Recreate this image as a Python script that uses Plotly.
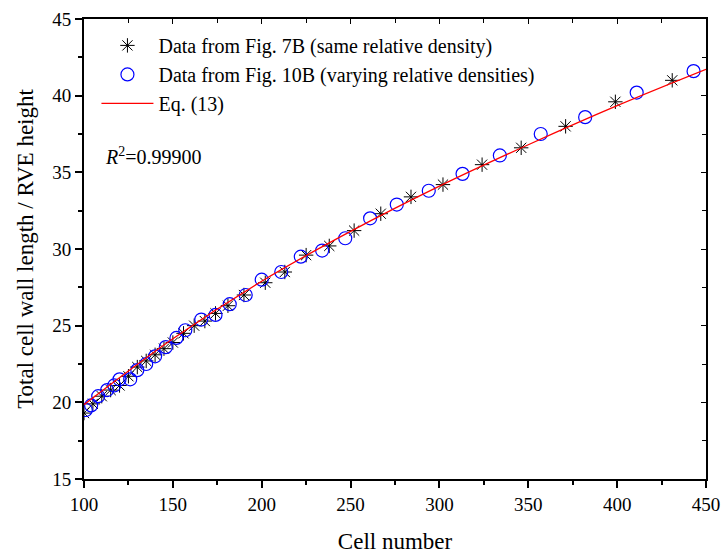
import plotly.graph_objects as go

# Data from Fig. 7B (same relative density) - asterisks
fig7b_cells = [100, 105, 110, 115, 120, 125, 130, 135, 140, 145, 150, 156, 162, 168, 174,
               181, 190, 202, 213, 225, 238, 252, 267, 284, 302, 324, 346, 371, 399, 431]
fig7b_len = [19.3, 19.9, 20.4, 20.8, 21.1, 21.7, 22.3, 22.7, 23.1, 23.5, 23.9, 24.5, 25.0, 25.3, 25.8,
             26.3, 27.0, 27.8, 28.5, 29.6, 30.2, 31.2, 32.3, 33.4, 34.2, 35.5, 36.6, 38.0, 39.6, 41.0]

# Data from Fig. 10B (varying relative densities) - circles
fig10b_cells = [101, 104, 108, 113, 117, 120, 126, 130, 135, 140, 146, 152, 157, 166, 174, 182,
                191, 200, 211, 222, 234, 247, 261, 276, 294, 313, 334, 357, 382, 411, 443]
fig10b_len = [19.5, 19.8, 20.4, 20.8, 21.1, 21.5, 21.5, 22.1, 22.5, 23.0, 23.6, 24.2, 24.7, 25.4, 25.7, 26.4,
              27.0, 28.0, 28.5, 29.5, 29.9, 30.7, 32.0, 32.9, 33.8, 34.9, 36.1, 37.5, 38.6, 40.2, 41.6]

# Eq. (13) curve
eq_cells = [100, 150, 200, 250, 300, 350, 400, 450]
eq_len = [19.85, 24.15, 27.9, 31.15, 34.1, 36.8, 39.35, 41.72]

x_ticks = [100, 150, 200, 250, 300, 350, 400, 450]
y_ticks = [15, 20, 25, 30, 35, 40, 45]

FONT = "Liberation Serif"

fig = go.Figure()
fig.add_trace(go.Scatter(
    x=fig7b_cells, y=fig7b_len, mode="markers",
    name="Data from Fig. 7B (same relative density)",
    marker=dict(symbol="asterisk-open", size=12, color="black",
                line=dict(color="black", width=1)),
))
fig.add_trace(go.Scatter(
    x=fig10b_cells, y=fig10b_len, mode="markers",
    name="Data from Fig. 10B (varying relative densities)",
    marker=dict(symbol="circle-open", size=13, color="#0000ff",
                line=dict(color="#0000ff", width=1.2)),
))
fig.add_trace(go.Scatter(
    x=eq_cells, y=eq_len, mode="lines", line_shape="spline",
    name="Eq. (13)", line=dict(color="#ff0000", width=1.3),
))
# empty trace to carry mirrored axes
fig.add_trace(go.Scatter(x=[None], y=[None], xaxis="x2", yaxis="y2",
                         showlegend=False, hoverinfo="skip"))

common = dict(showline=True, linecolor="black", linewidth=2, showgrid=False,
              zeroline=False, tickcolor="black", tickwidth=1.5, ticklen=7,
              automargin=False,
              tickfont=dict(family=FONT, size=19, color="black"))

fig.update_layout(
    width=724, height=554,
    margin=dict(l=84, r=18, t=19, b=75),
    paper_bgcolor="white", plot_bgcolor="white",
    font=dict(family=FONT, color="black"),
    xaxis=dict(range=[100, 450], tickvals=x_ticks, ticks="outside",
               minor=dict(dtick=25, ticks="outside", ticklen=4, tickcolor="black"),
               title=dict(text="Cell number", font=dict(family=FONT, size=23), standoff=20),
               **common),
    yaxis=dict(range=[15, 45], tickvals=y_ticks, ticks="outside",
               minor=dict(dtick=2.5, ticks="outside", ticklen=4, tickcolor="black"),
               title=dict(text="Total cell wall length / RVE height", font=dict(family=FONT, size=23), standoff=12),
               **common),
    xaxis2=dict(range=[100, 450], overlaying="x", side="top", tickvals=x_ticks,
                ticks="inside", showticklabels=False, showline=True, linecolor="black",
                linewidth=2, showgrid=False, zeroline=False, tickcolor="black", ticklen=5,
                minor=dict(dtick=25, ticks="inside", ticklen=4, tickcolor="black")),
    yaxis2=dict(range=[15, 45], overlaying="y", side="right", tickvals=y_ticks,
                ticks="inside", showticklabels=False, showline=True, linecolor="black",
                linewidth=2, showgrid=False, zeroline=False, tickcolor="black", ticklen=5,
                minor=dict(dtick=2.5, ticks="inside", ticklen=4, tickcolor="black")),
    legend=dict(x=0.02, y=0.985, xanchor="left", yanchor="top",
                bgcolor="rgba(0,0,0,0)", borderwidth=0,
                font=dict(family=FONT, size=20, color="black"),
                itemwidth=52, tracegroupgap=0),
    showlegend=True,
)

fig.add_annotation(
    xref="paper", yref="paper", x=0.03, y=0.702, xanchor="left", yanchor="middle",
    text="<i>R</i><sup>2</sup>=0.99900", showarrow=False,
    font=dict(family=FONT, size=20, color="black"),
)

fig.write_html("out.html")
